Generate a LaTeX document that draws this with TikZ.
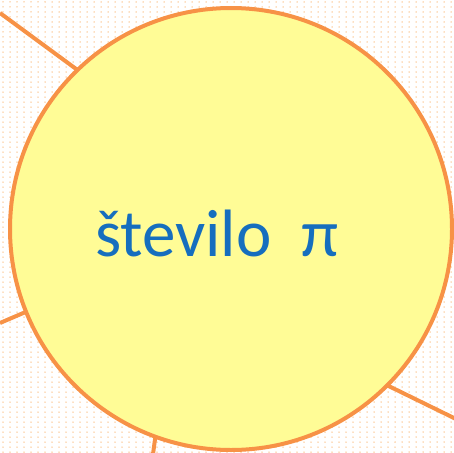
\documentclass[tikz,border=0pt]{standalone}
\usepackage{fontspec}
\setmainfont{Carlito}
\definecolor{sunfill}{RGB}{255,252,150}
\definecolor{sunline}{RGB}{247,146,70}
\definecolor{dotcol}{RGB}{250,190,130}
\definecolor{textblue}{RGB}{22,110,190}
\tikzset{
  sun/.style={circle,fill=sunfill,inner sep=0pt,minimum size=442pt},
  ray/.style={draw=sunline,line width=4pt},
}

\begin{document}
\begin{tikzpicture}[x=1pt,y=-1pt]
\useasboundingbox (0,0) rectangle (454,452);
% dotted background
\foreach \i in {0,...,64}
  \foreach \j in {0,...,90}
    \fill[dotcol] (3+7*\i,2+5*\j) circle (0.75);
\node[sun] (centre) at (231,229) {};
\coordinate (a) at (0,13);
\coordinate (b) at (0,323);
\coordinate (c) at (153,454);
\coordinate (d) at (456,419);
\draw[ray] (a) -- (centre.134.5);
\draw[ray] (b) -- (centre.202);
\draw[ray] (c) -- (centre.250.4);
\draw[ray] (d) -- (centre.315.2);
% cover the ray ends, then the rim
\node[sun] at (centre) {};
\draw[ray] (centre) circle (221);
\node[text=textblue,font=\fontsize{67}{76}\selectfont] (label) at (217,233) {število\ \ π};
\end{tikzpicture}
\end{document}
